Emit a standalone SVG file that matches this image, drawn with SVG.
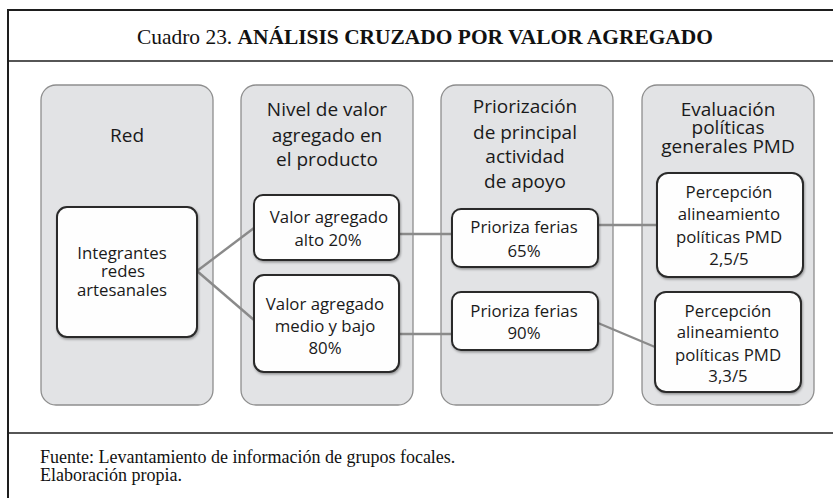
<svg xmlns="http://www.w3.org/2000/svg" width="833" height="498" viewBox="0 0 833 498">
<defs>
<style>
.frame{stroke:#1e1e1e;stroke-width:2;fill:none}
.div{stroke:#1e1e1e;stroke-width:1.6;fill:none}
.panel{fill:#e2e3e5;stroke:#8e8e8e;stroke-width:1.3}
.box{fill:#fefefe;stroke:#2a2a2a;stroke-width:2;filter:url(#sh)}
.hd{font-family:"Open Sans","Noto Sans",sans-serif;font-size:19px;fill:#1a1a1a;text-anchor:middle}
.bt{font-family:"Open Sans","Noto Sans",sans-serif;font-size:16.8px;fill:#1a1a1a;text-anchor:middle}
.serif{font-family:"Liberation Serif","Times New Roman",serif;fill:#111}
.conn{stroke:#8a8a8a;stroke-width:2.4;fill:none}
</style>
<filter id="sh" x="-10%" y="-10%" width="125%" height="130%">
<feDropShadow dx="0.8" dy="1.5" stdDeviation="1" flood-color="#000" flood-opacity="0.35"/>
</filter>
</defs>
<rect x="0" y="0" width="833" height="498" fill="#ffffff"/>
<g id="frame">
<path class="frame" d="M8,498 V10 H833"/>
<path class="div" d="M8,61 H833"/>
<path class="div" d="M8,433 H833"/>
</g>
<g id="title">
<text class="serif" x="137" y="44" font-size="21" textLength="576" lengthAdjust="spacingAndGlyphs">Cuadro 23. <tspan font-weight="bold">ANÁLISIS CRUZADO POR VALOR AGREGADO</tspan></text>
</g>
<g id="panel-red">
<rect class="panel" x="41" y="85" width="172" height="320" rx="15"/>
<text class="hd" x="127" y="142">Red</text>
</g>
<g id="panel-nivel">
<rect class="panel" x="241" y="85" width="172" height="320" rx="15"/>
<text class="hd" x="327" y="116">Nivel de valor</text>
<text class="hd" x="327" y="142">agregado en</text>
<text class="hd" x="327" y="166">el producto</text>
</g>
<g id="panel-priorizacion">
<rect class="panel" x="441" y="85" width="172" height="320" rx="15"/>
<text class="hd" x="525" y="113">Priorización</text>
<text class="hd" x="525" y="139">de principal</text>
<text class="hd" x="525" y="163">actividad</text>
<text class="hd" x="525" y="188">de apoyo</text>
</g>
<g id="panel-evaluacion">
<rect class="panel" x="642" y="85" width="172" height="320" rx="15"/>
<text class="hd" x="728" y="116">Evaluación</text>
<text class="hd" x="728" y="134">políticas</text>
<text class="hd" x="728" y="153">generales PMD</text>
</g>
<g id="connectors">
<line class="conn" x1="197" y1="271" x2="254" y2="228"/>
<line class="conn" x1="197" y1="271" x2="254" y2="320"/>
<line class="conn" x1="399" y1="234" x2="452" y2="234"/>
<line class="conn" x1="598" y1="225" x2="657" y2="225"/>
<line class="conn" x1="399" y1="334" x2="452" y2="334"/>
<line class="conn" x1="598" y1="323" x2="655" y2="347"/>
</g>
<g id="node-integrantes">
<rect class="box" x="57" y="207" width="140" height="130" rx="10"/>
<text class="bt" x="122" y="259">Integrantes</text>
<text class="bt" x="123" y="277">redes</text>
<text class="bt" x="122" y="296">artesanales</text>
</g>
<g id="node-valor-alto">
<rect class="box" x="254" y="195" width="145" height="65" rx="9"/>
<text class="bt" x="329" y="223">Valor agregado</text>
<text class="bt" x="328" y="246">alto 20%</text>
</g>
<g id="node-valor-medio">
<rect class="box" x="254" y="275" width="145" height="97" rx="10"/>
<text class="bt" x="325" y="310">Valor agregado</text>
<text class="bt" x="325" y="332">medio y bajo</text>
<text class="bt" x="325" y="354">80%</text>
</g>
<g id="node-prioriza-65">
<rect class="box" x="452" y="209" width="146" height="58" rx="9"/>
<text class="bt" x="524" y="233">Prioriza ferias</text>
<text class="bt" x="524" y="257">65%</text>
</g>
<g id="node-prioriza-90">
<rect class="box" x="452" y="292" width="146" height="58" rx="9"/>
<text class="bt" x="524" y="317">Prioriza ferias</text>
<text class="bt" x="524" y="339">90%</text>
</g>
<g id="node-percepcion-1">
<rect class="box" x="657" y="173" width="146" height="104" rx="11"/>
<text class="bt" x="729" y="198">Percepción</text>
<text class="bt" x="729" y="220">alineamiento</text>
<text class="bt" x="729" y="243">políticas PMD</text>
<text class="bt" x="729" y="265">2,5/5</text>
</g>
<g id="node-percepcion-2">
<rect class="box" x="655" y="292" width="146" height="100" rx="11"/>
<text class="bt" x="728" y="317">Percepción</text>
<text class="bt" x="728" y="338">alineamiento</text>
<text class="bt" x="728" y="361">políticas PMD</text>
<text class="bt" x="728" y="382">3,3/5</text>
</g>
<g id="footer">
<text class="serif" x="40" y="463" font-size="18">Fuente: Levantamiento de información de grupos focales.</text>
<text class="serif" x="40" y="481" font-size="18">Elaboración propia.</text>
</g>
</svg>
